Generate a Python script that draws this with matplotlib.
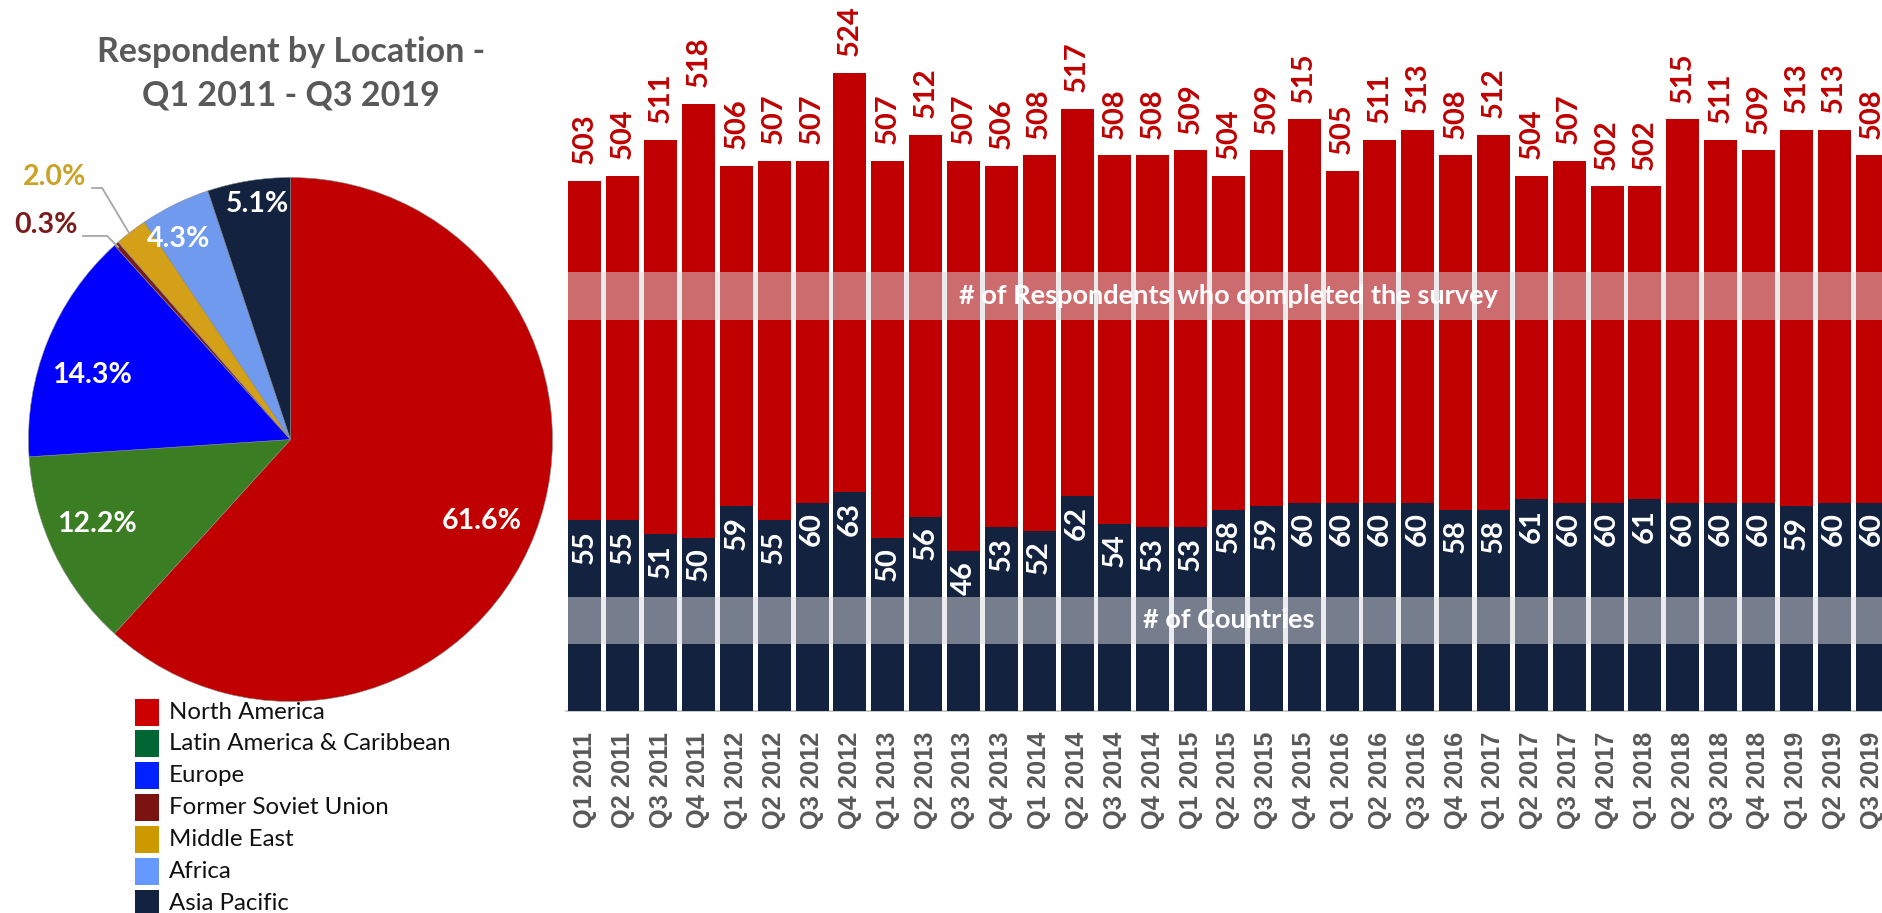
import matplotlib
matplotlib.use("Agg")
import matplotlib.pyplot as plt
from matplotlib.patches import Rectangle
from matplotlib.transforms import blended_transform_factory

# ---------------- data ----------------
regions = ["North America", "Latin America & Caribbean", "Europe",
           "Former Soviet Union", "Middle East", "Africa", "Asia Pacific"]
region_share = [61.6, 12.2, 14.3, 0.3, 2.0, 4.3, 5.1]
pie_colors = ["#C00000", "#3A7D22", "#0000FF", "#7B1C1C", "#D4A017", "#6F9AEE", "#13233F"]
legend_colors = ["#CC0000", "#006633", "#0022FF", "#7B1410", "#CC9900", "#6699FF", "#13233F"]

quarters = ["Q1 2011", "Q2 2011", "Q3 2011", "Q4 2011",
            "Q1 2012", "Q2 2012", "Q3 2012", "Q4 2012",
            "Q1 2013", "Q2 2013", "Q3 2013", "Q4 2013",
            "Q1 2014", "Q2 2014", "Q3 2014", "Q4 2014",
            "Q1 2015", "Q2 2015", "Q3 2015", "Q4 2015",
            "Q1 2016", "Q2 2016", "Q3 2016", "Q4 2016",
            "Q1 2017", "Q2 2017", "Q3 2017", "Q4 2017",
            "Q1 2018", "Q2 2018", "Q3 2018", "Q4 2018",
            "Q1 2019", "Q2 2019", "Q3 2019"]
respondents = [503, 504, 511, 518, 506, 507, 507, 524, 507, 512, 507, 506,
               508, 517, 508, 508, 509, 504, 509, 515, 505, 511, 513, 508,
               512, 504, 507, 502, 502, 515, 511, 509, 513, 513, 508]
countries = [55, 55, 51, 50, 59, 55, 60, 63, 50, 56, 46, 53,
             52, 62, 54, 53, 53, 58, 59, 60, 60, 60, 60, 58,
             58, 61, 60, 60, 61, 60, 60, 60, 59, 60, 60]

RED = "#C00000"
NAVY = "#13233F"
GRAY_TXT = "#595959"
CAL = "Lato"

W, H = 1883, 913
fig = plt.figure(figsize=(W / 100, H / 100), dpi=100)


def box(x0, y0, x1, y1):
    """pixel box (top-left origin) -> figure fraction rect"""
    return [x0 / W, (H - y1) / H, (x1 - x0) / W, (y1 - y0) / H]


# ---------------- pie ----------------
cx, cy, R = 290.5, 439.5, 262
axp = fig.add_axes(box(cx - R, cy - R, cx + R, cy + R))
axp.pie(region_share, colors=pie_colors, startangle=90, counterclock=False,
        radius=1.0, normalize=True,
        wedgeprops=dict(linewidth=0.4, edgecolor="#888888"))
axp.set_xlim(-1, 1)
axp.set_ylim(-1, 1)
axp.set_aspect("auto")
axp.axis("off")

label_pos = [(0.731, -0.311), (-0.737, -0.322), (-0.758, 0.246),
             (-0.933, 0.819), (-0.899, 1.002), (-0.426, 0.765), (-0.128, 0.899)]
label_col = ["white", "white", "white", "#7B1C1C", "#C9A227", "white", "white"]
for v, (lx, ly), c in zip(region_share, label_pos, label_col):
    axp.text(lx, ly, f"{v:.1f}%", color=c, fontsize=20.5, fontweight="bold",
             family=CAL, ha="center", va="center", clip_on=False)
# leader lines for small slices
axp.plot([-0.757, -0.719, -0.616], [0.960, 0.960, 0.788], color="#A6A6A6",
         lw=1.3, clip_on=False)
axp.plot([-0.792, -0.700, -0.658], [0.777, 0.777, 0.735], color="#A6A6A6",
         lw=1.3, clip_on=False)

fig.text(291 / W, 1 - 52 / H, "Respondent by Location -", ha="center", va="center",
         fontsize=24.5, fontweight="bold", color=GRAY_TXT, family=CAL)
fig.text(291 / W, 1 - 96 / H, "Q1 2011 - Q3 2019", ha="center", va="center",
         fontsize=24.5, fontweight="bold", color=GRAY_TXT, family=CAL)

# legend (manual)
row_y = [712.5, 743.5, 775.5, 807.5, 839.5, 871.5, 903]
for name, col, yy in zip(regions, legend_colors, row_y):
    fig.patches.append(Rectangle((135 / W, 1 - (yy + 13.5) / H), 24 / W, 27 / H,
                                 transform=fig.transFigure, facecolor=col,
                                 edgecolor="none"))
    fig.text(169 / W, 1 - yy / H, name, ha="left", va="center", fontsize=17.3,
             color="#111111", family=CAL)

# ---------------- bars ----------------
left_px, right_px = 566, 1891
axr = fig.add_axes(box(left_px, 0, right_px, 711))
axn = axr.twinx()
x = list(range(len(quarters)))
bw = 0.87

axr.bar(x, respondents, width=bw, color=RED, edgecolor="none")
axr.set_ylim(400, 538.2)
axr.set_xlim(-0.5, len(quarters) - 0.5)

axn.bar(x, countries, width=bw, color=NAVY, edgecolor="none")
axn.set_ylim(0, 204.9)
axn.set_xlim(-0.5, len(quarters) - 0.5)

for a in (axr, axn):
    for s in ("top", "left", "right"):
        a.spines[s].set_visible(False)
    a.set_yticks([])
axn.spines["bottom"].set_visible(False)
axr.spines["bottom"].set_color("#BFBFBF")
axr.spines["bottom"].set_linewidth(1.2)

axr.set_xticks(x)
axr.set_xticklabels(quarters, rotation=90, fontsize=18.3, fontweight="bold",
                    color=GRAY_TXT, family="Liberation Sans")
axr.tick_params(axis="x", length=0, pad=15)
axn.tick_params(axis="x", length=0, labelbottom=False)

for xi, v in zip(x, respondents):
    axr.annotate(str(v), (xi, v), xytext=(0, 12), textcoords="offset points",
                 rotation=90, ha="center", va="bottom", fontsize=21,
                 fontweight="bold", color=RED, family=CAL, annotation_clip=False)
for xi, v in zip(x, countries):
    axn.annotate(str(v), (xi, v), xytext=(0, -7), textcoords="offset points",
                 rotation=90, ha="center", va="top", fontsize=21,
                 fontweight="bold", color="white", family=CAL)

tr = blended_transform_factory(axn.transData, axn.transAxes)
x0 = -bw / 2
band_w = len(quarters) + 1
for (yb, hgt, txt, ty) in [(0.550, 0.067, "# of Respondents who completed the survey", 0.584),
                           (0.094, 0.066, "# of Countries", 0.128)]:
    axn.add_patch(Rectangle((x0, yb), band_w, hgt, transform=tr,
                            facecolor="#D9D9DE", alpha=0.5, edgecolor="none",
                            zorder=5, clip_on=False))
    axn.text(17.0, ty, txt, transform=tr, ha="center", va="center",
             fontsize=19.5, fontweight="bold", color="white", family=CAL, zorder=6)

fig.savefig("out.png", dpi=100)
